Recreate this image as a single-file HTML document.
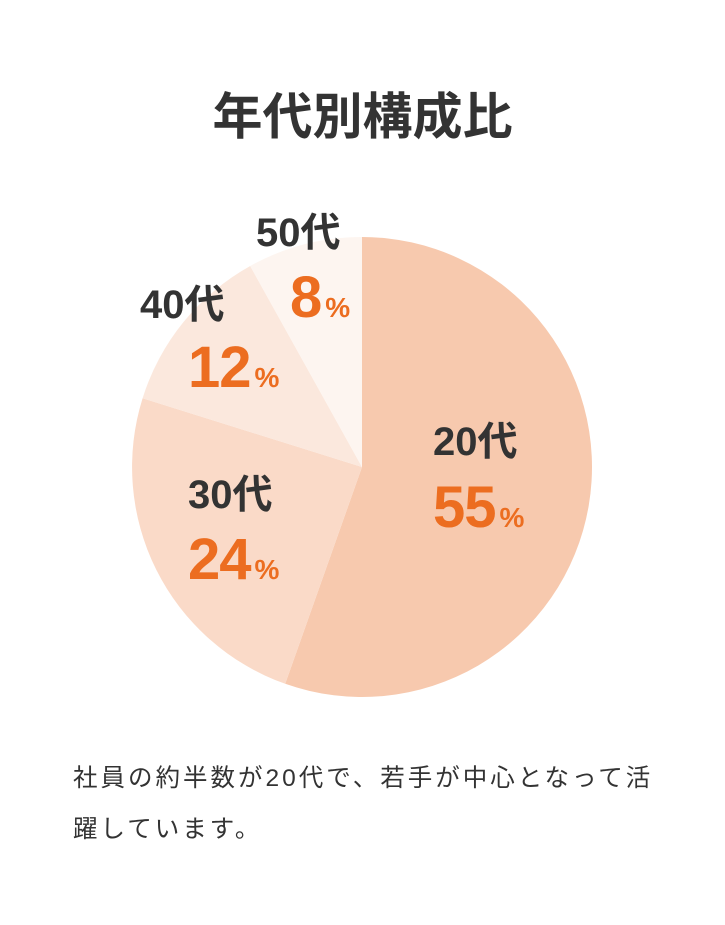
<!DOCTYPE html>
<html><head><meta charset="utf-8"><style>
body{margin:0;background:#fff;width:725px;height:925px;overflow:hidden;font-family:"Liberation Sans","Noto Sans CJK JP",sans-serif;}
.t{position:absolute;left:0;width:725px;text-align:center;top:86px;font-size:50px;font-weight:bold;color:#333;line-height:62px;}
.l{position:absolute;font-weight:bold;color:#333;font-size:40px;line-height:40px;white-space:nowrap}
.p{position:absolute;font-weight:bold;color:#ec6d20;font-size:58px;line-height:60px;white-space:nowrap;letter-spacing:-1px}
.p span{font-size:28px;letter-spacing:0;margin-left:4px}
.d{position:absolute;left:73px;top:753px;width:640px;font-size:24.5px;line-height:51px;color:#333;letter-spacing:3px;white-space:nowrap}
</style></head><body>
<div class="t">年代別構成比</div>
<svg style="position:absolute;left:0;top:0" width="725" height="925">
<path d="M362,467 L362,237 A230,230 0 1 1 285.2,683.8 Z" fill="#f7c9ae"/>
<path d="M362,467 L285.2,683.8 A230,230 0 0 1 142.6,398.2 Z" fill="#fadac8"/>
<path d="M362,467 L142.6,398.2 A230,230 0 0 1 250.2,266 Z" fill="#fbe8dd"/>
<path d="M362,467 L250.2,266 A230,230 0 0 1 362,237 Z" fill="#fdf5f0"/>
</svg>
<div class="l" style="left:256px;top:213px">50代</div>
<div class="p" style="left:290px;top:268px">8<span>%</span></div>
<div class="l" style="left:140px;top:285px">40代</div>
<div class="p" style="left:188px;top:338px">12<span>%</span></div>
<div class="l" style="left:433px;top:422px">20代</div>
<div class="p" style="left:433px;top:478px">55<span>%</span></div>
<div class="l" style="left:188px;top:475px">30代</div>
<div class="p" style="left:188px;top:530px">24<span>%</span></div>
<div class="d">社員の約半数が20代で、若手が中心となって活<br>躍しています。</div>
</body></html>
